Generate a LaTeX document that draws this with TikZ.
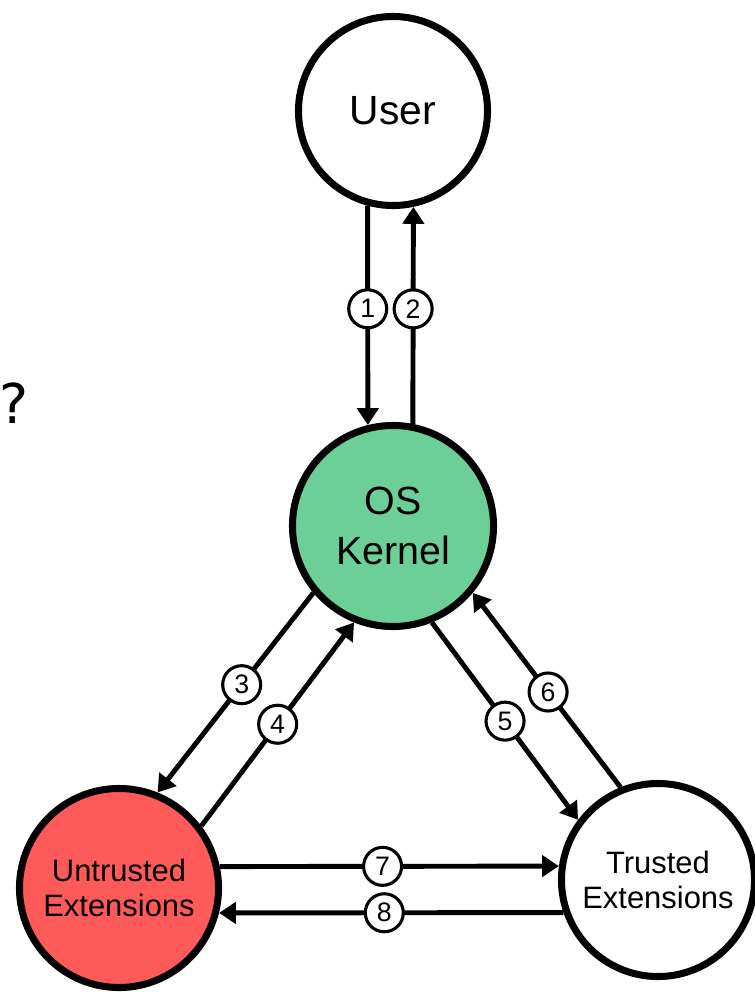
\documentclass[tikz,border=0pt]{standalone}
\usepackage{fontspec}
\setmainfont{Liberation Sans}
\newfontfamily\askfont{DejaVu Sans}
\usepackage{xcolor}
\usetikzlibrary{arrows.meta,positioning}
\definecolor{kernelgreen}{RGB}{108,207,152}
\definecolor{untrustedred}{RGB}{255,90,90}

\begin{document}
\begin{tikzpicture}[x=0.025cm,y=-0.025cm,
    state/.style={circle,draw,line width=5pt,inner sep=0pt,align=center},
    flow/.style={line width=3.5pt,-{Triangle[length=12pt,width=15pt]}},
    tag/.style={circle,draw,fill=white,line width=2.2pt,inner sep=0pt,
      minimum size=0.95cm,font=\fontsize{19}{19}\selectfont}]
    \useasboundingbox (0,0) rectangle (755,992);
    % the four parties
    \node[state,minimum size=4.725cm,font=\fontsize{29}{30}\selectfont] (user) at (393,111) {User};
    \node[state,fill=kernelgreen,minimum size=5.025cm,font=\fontsize{28}{35.6}\selectfont] (kernel) at (393,526) {OS\\Kernel};
    \node[state,fill=untrustedred,minimum size=4.975cm,font=\fontsize{22}{24.9}\selectfont] (untr) at (119,888) {Untrusted\\Extensions};
    \node[state,minimum size=4.825cm,font=\fontsize{22}{24.3}\selectfont] (trust) at (658,880) {Trusted\\Extensions};
    \node[font=\askfont\fontsize{39}{39}\selectfont] (ask) at (14,403) {?};
    % user <-> kernel
    \draw[flow] (user.-105) -- node[tag,pos=0.47] {1} (kernel.104);
    \draw[flow] (kernel.79) -- node[tag,pos=0.53] {2} (user.-78);
    % kernel <-> untrusted
    \draw[flow] (kernel.-140) -- node[tag,pos=0.46] {3} (untr.68);
    \draw[flow] (untr.37) -- node[tag,pos=0.5] {4} (kernel.-112);
    % kernel <-> trusted
    \draw[flow] (kernel.-68) -- node[tag,pos=0.5] {5} (trust.143);
    \draw[flow] (trust.112) -- node[tag,pos=0.49] {6} (kernel.-40);
    % untrusted <-> trusted
    \draw[flow] (untr.12) -- node[tag,pos=0.48] {7} (trust.172);
    \draw[flow] (trust.-161) -- node[tag,pos=0.52] {8} (untr.-14);
\end{tikzpicture}
\end{document}
